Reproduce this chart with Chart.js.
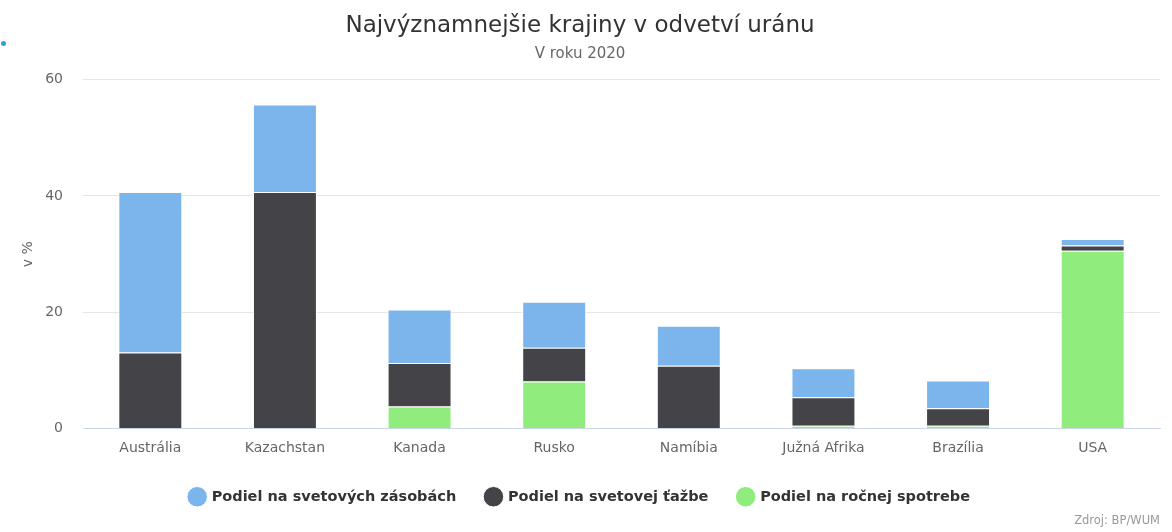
<!DOCTYPE html>
<html>
<head>
<meta charset="utf-8">
<script src="https://cdn.jsdelivr.net/npm/chart.js@4"></script>
<style>
html,body{margin:0;padding:0;background:#fff;}
#wrap{position:relative;width:1172px;height:532px;}
#credit{position:absolute;right:12px;top:513px;line-height:16px;font:11.5px "DejaVu Sans",sans-serif;color:#999;}
#dot{position:absolute;left:1px;top:41px;width:5px;height:5px;border-radius:50%;background:#2f9fd8;}
</style>
</head>
<body>
<div id="wrap">
<canvas id="c" width="1172" height="532"></canvas>
<div id="dot"></div>
<div id="credit">Zdroj: BP/WUM</div>
</div>
<script>
const categories = ["Austrália","Kazachstan","Kanada","Rusko","Namíbia","Južná Afrika","Brazília","USA"];
const reserves = [27.6, 15.0, 9.2, 7.9, 6.9, 5.0, 4.8, 1.1];
const production = [13.1, 40.7, 7.5, 5.8, 10.8, 4.9, 3.0, 0.9];
const consumption = [0, 0, 3.8, 8.1, 0, 0.5, 0.5, 30.6];
const seriesNames = ["Podiel na svetových zásobách","Podiel na svetovej ťažbe","Podiel na ročnej spotrebe"];
const yTicks = [0, 20, 40, 60];

const font = '"DejaVu Sans", sans-serif';
new Chart(document.getElementById('c'), {
  type: 'bar',
  data: {
    labels: categories,
    datasets: [
      {label: seriesNames[2], data: consumption, backgroundColor: '#90ed7d', borderColor: '#fff', borderWidth: 1},
      {label: seriesNames[1], data: production, backgroundColor: '#434348', borderColor: '#fff', borderWidth: 1},
      {label: seriesNames[0], data: reserves, backgroundColor: '#7cb5ec', borderColor: '#fff', borderWidth: 1}
    ]
  },
  options: {
    responsive: false,
    animation: false,
    layout: {padding: {left: 0, right: 12, top: 0, bottom: 18}},
    datasets: {bar: {categoryPercentage: 1, barPercentage: 0.475}},
    plugins: {
      title: {display: true, text: 'Najvýznamnejšie krajiny v odvetví uránu', color: '#333', font: {family: font, size: 23, weight: 'normal'}, padding: {top: 12, bottom: 6}},
      subtitle: {display: true, text: 'V roku 2020', color: '#666', font: {family: font, size: 15, weight: 'normal'}, padding: {top: 0, bottom: 16}},
      legend: {position: 'bottom', reverse: true, labels: {usePointStyle: true, pointStyle: 'circle', boxWidth: 15, boxHeight: 15, padding: 30, color: '#333', font: {family: font, size: 14.5, weight: 'bold'}}},
      tooltip: {enabled: false}
    },
    scales: {
      x: {stacked: true, grid: {display: false}, border: {color: '#ccd6eb'}, ticks: {color: '#666', font: {family: font, size: 14}}},
      y: {
        stacked: true, min: 0, max: 60,
        afterBuildTicks: s => { s.ticks = yTicks.map(v => ({value: v})); },
        afterFit: s => { s.width = 83; },
        grid: {color: '#e6e6e6', drawTicks: false},
        border: {display: false},
        ticks: {color: '#666', padding: 20, font: {family: font, size: 14}},
        title: {display: true, text: 'v %', color: '#666', font: {family: font, size: 14}, padding: {top: 20, bottom: 0}}
      }
    }
  }
});
</script>
</body>
</html>
